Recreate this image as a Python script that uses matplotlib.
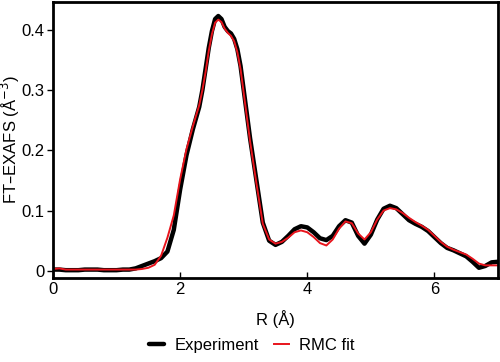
import numpy as np
import matplotlib
matplotlib.use("Agg")
import matplotlib.pyplot as plt

plt.rcParams['font.family'] = ['Liberation Sans', 'DejaVu Sans']

# R grid (Angstrom): 0.1 steps, finer 0.05 steps across the main peak
r = np.round(np.concatenate([
    np.arange(0.0, 2.29, 0.1),
    np.arange(2.3, 2.99, 0.05),
    np.arange(3.0, 7.01, 0.1),
]), 2)

# Experiment FT-EXAFS
experiment = [
    0.002, 0.002, 0.001, 0.001, 0.001, 0.002, 0.002, 0.002, 0.001, 0.001,
    0.001, 0.002, 0.002, 0.004, 0.008, 0.012, 0.016, 0.021, 0.032, 0.068,
    0.135, 0.192, 0.235,
    0.272, 0.300, 0.335, 0.370, 0.398, 0.418, 0.423, 0.418, 0.405, 0.398,
    0.394, 0.385, 0.368, 0.340,
    0.300, 0.220, 0.150, 0.080, 0.050, 0.043, 0.048, 0.058, 0.069, 0.074,
    0.072, 0.064, 0.054, 0.051, 0.058, 0.074, 0.084, 0.080, 0.058, 0.045,
    0.060, 0.085, 0.103, 0.108, 0.104, 0.094, 0.084, 0.078, 0.073, 0.066,
    0.056, 0.046, 0.038, 0.034, 0.029, 0.024, 0.015, 0.005, 0.008, 0.014,
    0.015,
]

# RMC fit
rmc_fit = [
    0.003, 0.004, 0.002, 0.002, 0.002, 0.002, 0.002, 0.002, 0.002, 0.002,
    0.002, 0.002, 0.002, 0.002, 0.003, 0.005, 0.010, 0.025, 0.055, 0.092,
    0.152, 0.202, 0.240,
    0.275, 0.300, 0.330, 0.365, 0.393, 0.412, 0.417, 0.413, 0.402, 0.395,
    0.390, 0.381, 0.363, 0.335,
    0.295, 0.215, 0.145, 0.078, 0.052, 0.045, 0.048, 0.055, 0.064, 0.067,
    0.064, 0.056, 0.046, 0.042, 0.052, 0.070, 0.082, 0.079, 0.062, 0.052,
    0.064, 0.085, 0.100, 0.104, 0.102, 0.096, 0.088, 0.081, 0.075, 0.068,
    0.058, 0.048, 0.040, 0.035, 0.031, 0.027, 0.020, 0.012, 0.009, 0.009,
    0.009,
]

fig = plt.figure(figsize=(5.0, 3.62), dpi=100)
ax = fig.add_axes([0.106, 0.232, 0.89, 0.762])

ax.plot(r, experiment, color='black', lw=3.2, label='Experiment',
        solid_joinstyle='round', solid_capstyle='round')
ax.plot(r, rmc_fit, color='#e8141c', lw=1.4, label='RMC fit',
        solid_joinstyle='round')

ax.set_xlim(0, 7)
ax.set_ylim(-0.012, 0.446)
ax.set_xticks([0, 2, 4, 6])
ax.set_yticks([0, 0.1, 0.2, 0.3, 0.4])
ax.set_yticklabels(['0', '0.1', '0.2', '0.3', '0.4'])
ax.tick_params(direction='in', length=4, width=1, labelsize=12, pad=3)
ax.tick_params(axis='y', direction='out', length=4, pad=2)
for s in ax.spines.values():
    s.set_linewidth(2)

ax.set_xlabel('R (Å)', fontsize=12)
ax.xaxis.set_label_coords(0.5, -0.115)
ax.set_ylabel('FT–EXAFS (Å$^{-3}$)', fontsize=12)
ax.yaxis.set_label_coords(-0.07, 0.5)

ax.legend(loc='center', bbox_to_anchor=(0.447, -0.245), ncol=2, frameon=False,
          fontsize=12, handlelength=0.9, columnspacing=0.9, handletextpad=0.6,
          borderaxespad=0)

fig.savefig('out.png', dpi=100)
